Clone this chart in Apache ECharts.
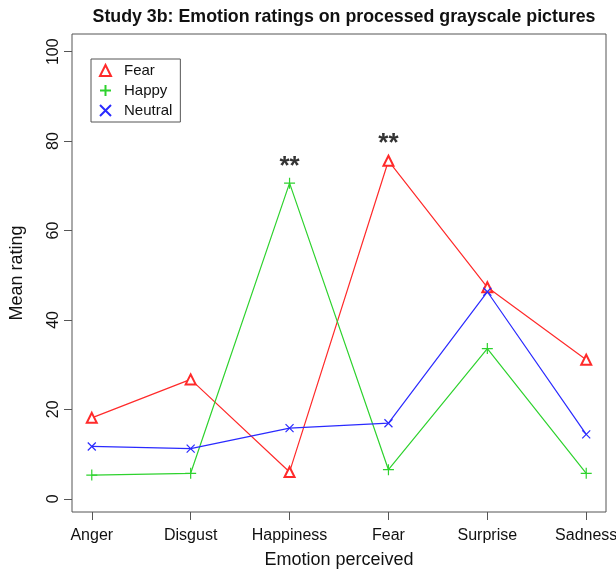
<!DOCTYPE html>
<html>
<head>
<meta charset="utf-8">
<script src="https://cdn.jsdelivr.net/npm/echarts@6/dist/echarts.min.js"></script>
<style>html,body{margin:0;padding:0;background:#fff;}#c{width:616px;height:569px;}</style>
</head>
<body>
<div id="c"></div>
<script>
var categories = ['Anger', 'Disgust', 'Happiness', 'Fear', 'Surprise', 'Sadness'];
var fearValues = [18.1, 26.7, 6.0, 75.6, 47.3, 31.1];
var happyValues = [5.3, 5.7, 70.6, 6.5, 33.6, 5.7];
var neutralValues = [11.7, 11.2, 15.8, 16.9, 46.3, 14.4];
var yTicks = [0, 20, 40, 60, 80, 100];
var xTicks = [1, 2, 3, 4, 5, 6];
var annotX = [3, 4];
var annotY = [74.2, 79.3];
var annotText = ['**', '**'];

var FONT = 'Liberation Sans, Arial, Helvetica, sans-serif';
var RED = '#ff2a2a', GREEN = '#2ed22e', BLUE = '#2a2aff';
var plusPath = 'path://M0,5L10,5M5,0L5,10';
var xPath = 'path://M0,0L10,10M0,10L10,0';

function pairs(vals) { return vals.map(function (v, i) { return [xTicks[i], v]; }); }

var chart = echarts.init(document.getElementById('c'), null, { renderer: 'canvas' });
chart.setOption({
  animation: false,
  backgroundColor: '#fff',
  title: {
    text: 'Study 3b: Emotion ratings on processed grayscale pictures',
    left: 339, top: 3, textAlign: 'center',
    textStyle: { fontFamily: FONT, fontWeight: 'bold', fontSize: 17.8, color: '#111' }
  },
  grid: { left: 72, right: 10, top: 34, bottom: 57, outerBoundsMode: 'none', containLabel: false,
    show: true, borderColor: '#555', borderWidth: 1, backgroundColor: 'transparent' },
  legend: {
    orient: 'vertical', left: 91, top: 59,
    borderColor: '#555', borderWidth: 1, borderRadius: 0,
    padding: [4, 8, 4, 8], itemGap: 5, itemWidth: 11, itemHeight: 11,
    textStyle: { fontFamily: FONT, fontSize: 15, color: '#111', padding: [0, 0, 0, 8] },
    data: [
      { name: 'Fear', icon: 'emptyTriangle' },
      { name: 'Happy', icon: plusPath },
      { name: 'Neutral', icon: xPath }
    ]
  },
  xAxis: {
    type: 'value', min: 0.8, max: 6.2,
    name: 'Emotion perceived', nameLocation: 'middle', nameGap: 39,
    nameTextStyle: { fontFamily: FONT, fontSize: 18, color: '#111' },
    axisLine: { show: false, onZero: false },
    axisTick: { show: true, length: 8, inside: false, customValues: xTicks, lineStyle: { color: '#555' } },
    axisLabel: { fontFamily: FONT, fontSize: 16, color: '#111', margin: 16, customValues: xTicks,
      formatter: function (v) { return categories[Math.round(v) - 1] || ''; } },
    splitLine: { show: false }
  },
  yAxis: {
    type: 'value', min: -2.96, max: 103.96,
    name: 'Mean rating', nameLocation: 'middle', nameGap: 46,
    nameTextStyle: { fontFamily: FONT, fontSize: 18, color: '#111' },
    axisLine: { show: false, onZero: false },
    axisTick: { show: true, length: 8, inside: false, customValues: yTicks, lineStyle: { color: '#555' } },
    axisLabel: { fontFamily: FONT, fontSize: 16, color: '#111', margin: 10, rotate: 90, customValues: yTicks },
    splitLine: { show: false }
  },
  series: [
    { name: 'Fear', type: 'line', data: pairs(fearValues), symbol: 'emptyTriangle', symbolSize: 10,
      lineStyle: { color: RED, width: 1.2 }, itemStyle: { color: RED, borderColor: RED, borderWidth: 1.2 } },
    { name: 'Happy', type: 'line', data: pairs(happyValues), symbol: plusPath, symbolSize: 11,
      lineStyle: { color: GREEN, width: 1.2 }, itemStyle: { color: GREEN, borderColor: GREEN, borderWidth: 1.2 } },
    { name: 'Neutral', type: 'line', data: pairs(neutralValues), symbol: xPath, symbolSize: 8,
      lineStyle: { color: BLUE, width: 1.2 }, itemStyle: { color: BLUE, borderColor: BLUE, borderWidth: 1.2 } },
    { name: 'annot', type: 'scatter', data: annotX.map(function (x, i) { return [x, annotY[i]]; }),
      symbolSize: 0, silent: true,
      label: { show: true, position: 'inside', fontFamily: FONT, fontSize: 26, fontWeight: 'bold', color: '#000',
        formatter: function (p) { return annotText[p.dataIndex]; } } }
  ]
});
</script>
</body>
</html>
